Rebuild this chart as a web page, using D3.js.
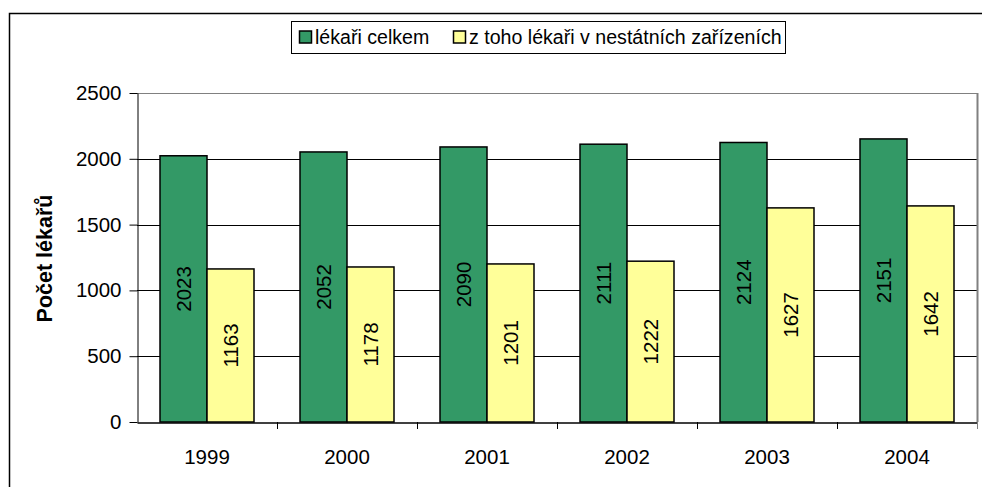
<!DOCTYPE html>
<html>
<head>
<meta charset="utf-8">
<script src="https://cdn.jsdelivr.net/npm/d3@7"></script>
<style>
  body { margin: 0; background: #fff; }
  svg { display: block; font-family: "Liberation Sans", Arial, sans-serif; }
</style>
</head>
<body>
<svg id="chart" width="982" height="487"></svg>
<script>
const years = ["1999", "2000", "2001", "2002", "2003", "2004"];
const total = [2023, 2052, 2090, 2111, 2124, 2151];
const nonState = [1163, 1178, 1201, 1222, 1627, 1642];
const seriesNames = ["lékaři celkem", "z toho lékaři v nestátních zařízeních"];
const yTicks = [0, 500, 1000, 1500, 2000, 2500];

const colors = { total: "#339966", nonState: "#ffff99", grid: "#000", frame: "#808080" };
const plot = { left: 137, right: 977, top: 93, bottom: 422 };
const font = "Liberation Sans, Arial, sans-serif";

const svg = d3.select("#chart");

// outer chart frame
svg.append("rect")
  .attr("x", 9.5).attr("y", 13.5).attr("width", 1000).attr("height", 500)
  .attr("fill", "none").attr("stroke", "#000").attr("stroke-width", 1.5);

const x = d3.scaleBand().domain(years).range([plot.left, plot.right]);
const y = d3.scaleLinear().domain([0, 2500]).range([plot.bottom, plot.top]);

// gridlines
svg.append("g")
  .selectAll("line")
  .data(yTicks.filter((t) => t > 0))
  .join("line")
  .attr("x1", plot.left).attr("x2", plot.right)
  .attr("y1", (d) => Math.round(y(d)) + 0.5).attr("y2", (d) => Math.round(y(d)) + 0.5)
  .attr("stroke", (d) => (d === 2500 ? colors.frame : colors.grid))
  .attr("stroke-width", 1);

// right frame of plot area
svg.append("line")
  .attr("x1", plot.right + 0.5).attr("x2", plot.right + 0.5)
  .attr("y1", plot.top).attr("y2", plot.bottom)
  .attr("stroke", colors.frame).attr("stroke-width", 2);

// bars
const groupPad = 23;
const barW = (x.bandwidth() - 2 * groupPad) / 2;
const rows = years.map((yr, i) => ({ yr, total: total[i], nonState: nonState[i] }));

const groups = svg.append("g").selectAll("g").data(rows).join("g");

[["total", colors.total, 0], ["nonState", colors.nonState, 1]].forEach(([key, fill, k]) => {
  groups.append("rect")
    .attr("x", (d) => x(d.yr) + groupPad + k * barW)
    .attr("y", (d) => y(d[key]))
    .attr("width", barW)
    .attr("height", (d) => y(0) - y(d[key]))
    .attr("fill", fill)
    .attr("stroke", "#000")
    .attr("stroke-width", 1.5);

  groups.append("text")
    .attr("transform", (d) => {
      const cx = x(d.yr) + groupPad + k * barW + barW / 2;
      const cy = (y(d[key]) + y(0)) / 2;
      return `translate(${cx + 7.5},${cy}) rotate(-90)`;
    })
    .attr("text-anchor", "middle")
    .attr("font-size", 20.5)
    .attr("fill", "#000")
    .text((d) => d[key]);
});

// y axis
const yAxis = svg.append("g")
  .attr("transform", `translate(${plot.left + 0.5},0)`)
  .call(d3.axisLeft(y).tickValues(yTicks).tickFormat(d3.format("d")).tickSize(8).tickSizeOuter(0).tickPadding(8));
yAxis.select(".domain").attr("stroke", "#000");
yAxis.selectAll(".tick line").attr("stroke", "#000");
yAxis.selectAll("text").attr("font-size", 20.5).attr("font-family", font).attr("fill", "#000");

// x axis
const xAxis = svg.append("g")
  .attr("transform", `translate(0,${plot.bottom + 0.5})`)
  .call(d3.axisBottom(x).tickSize(0).tickPadding(27));
xAxis.select(".domain").attr("stroke", "#000").attr("stroke-width", 1.5);
xAxis.selectAll("text").attr("font-size", 20.5).attr("font-family", font).attr("fill", "#000");

// category separator ticks
svg.append("g")
  .selectAll("line")
  .data(years.slice(1).concat(["end"]))
  .join("line")
  .attr("x1", (d) => (d === "end" ? plot.right : x(d)) + 0.5)
  .attr("x2", (d) => (d === "end" ? plot.right : x(d)) + 0.5)
  .attr("y1", plot.bottom).attr("y2", plot.bottom + 7)
  .attr("stroke", (d) => (d === "end" ? colors.frame : "#000"));

// y axis title
svg.append("text")
  .attr("transform", `translate(52,${(plot.top + plot.bottom) / 2 + 1}) rotate(-90)`)
  .attr("text-anchor", "middle")
  .attr("font-size", 21.5)
  .attr("font-weight", "bold")
  .text("Počet lékařů");

// legend
const legend = svg.append("g");
legend.append("rect")
  .attr("x", 291.5).attr("y", 21.5).attr("width", 494).attr("height", 32)
  .attr("fill", "#fff").attr("stroke", "#000").attr("stroke-width", 1);

const legendItems = [
  { name: seriesNames[0], fill: colors.total, x: 299 },
  { name: seriesNames[1], fill: colors.nonState, x: 453 },
];
const li = legend.selectAll("g.item").data(legendItems).join("g").attr("class", "item");
li.append("rect")
  .attr("x", (d) => d.x + 0.5).attr("y", 31).attr("width", 12).attr("height", 12)
  .attr("fill", (d) => d.fill).attr("stroke", "#000").attr("stroke-width", 1.5);
li.append("text")
  .attr("x", (d) => d.x + 16).attr("y", 44)
  .attr("font-size", 19.6)
  .text((d) => d.name);
</script>
</body>
</html>
